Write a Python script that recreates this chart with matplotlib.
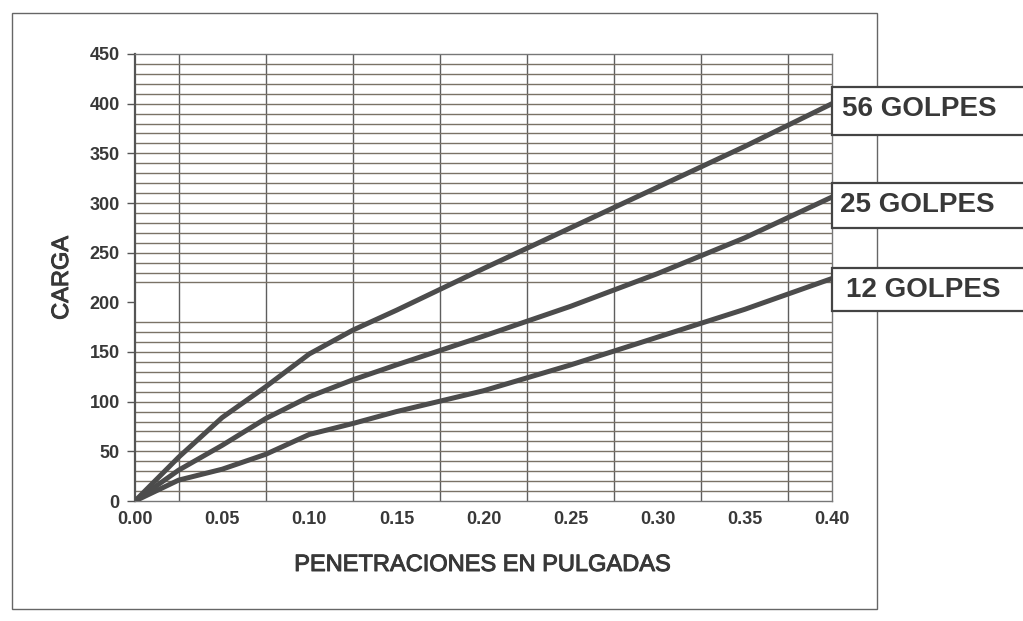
import matplotlib
matplotlib.use("Agg")
import matplotlib.pyplot as plt
import matplotlib.patheffects as pe
from matplotlib.patches import Rectangle
from matplotlib.ticker import FixedLocator

# ---- data ----
penetracion = [0.0, 0.025, 0.05, 0.075, 0.10, 0.125, 0.15, 0.20, 0.25, 0.30, 0.35, 0.40]
golpes_56 = [0, 44, 84, 115, 148, 172, 192, 234, 275, 316, 357, 400]
golpes_25 = [0, 31, 56, 83, 105, 122, 137, 166, 196, 229, 265, 306]
golpes_12 = [0, 21, 32, 47, 67, 78, 90, 111, 137, 165, 193, 224]
series_labels = ["56 GOLPES", "25 GOLPES", "12 GOLPES"]
x_ticks = [0.00, 0.05, 0.10, 0.15, 0.20, 0.25, 0.30, 0.35, 0.40]
x_ticklabels = ["0.00", "0.05", "0.10", "0.15", "0.20", "0.25", "0.30", "0.35", "0.40"]
y_ticks = [0, 50, 100, 150, 200, 250, 300, 350, 400, 450]
x_grid = [0.025, 0.075, 0.125, 0.175, 0.225, 0.275, 0.325, 0.375]
y_grid = [v for v in range(10, 450, 10) if v not in (190, 200, 210)]
xlabel = "PENETRACIONES EN PULGADAS"
ylabel = "CARGA"

W, H = 1023, 621
fig = plt.figure(figsize=(W / 100, H / 100), dpi=100)
fig.patch.set_facecolor("white")

TXT = "#383838"
GRID = "#7a7266"
LINE = "#4c4c4c"
thick = [pe.withStroke(linewidth=0.7, foreground=TXT)]

def fx(px):
    return px / W

def fy(py):
    return 1 - py / H

left, right, top, bottom = 135, 832, 54, 501
ax = fig.add_axes([fx(left), fy(bottom), fx(right) - fx(left), fy(top) - fy(bottom)])
ax.set_xlim(0, 0.40)
ax.set_ylim(0, 450)

for g in x_grid:
    ax.axvline(g, color="#5e5e5e", lw=1.0, zorder=1)
for g in y_grid:
    ax.axhline(g, color=GRID, lw=1.0, zorder=1)

for ys in (golpes_56, golpes_25, golpes_12):
    ax.plot(penetracion, ys, color=LINE, lw=3.6, solid_capstyle="round",
            solid_joinstyle="round", zorder=3)

ax.xaxis.set_major_locator(FixedLocator(x_ticks))
ax.set_xticklabels(x_ticklabels)
ax.yaxis.set_major_locator(FixedLocator(y_ticks))
for lab in ax.get_xticklabels() + ax.get_yticklabels():
    lab.set_fontfamily("Liberation Sans")
    lab.set_fontweight("bold")
    lab.set_fontsize(13)
    lab.set_color(TXT)
ax.tick_params(axis="x", length=0, pad=7)
ax.tick_params(axis="y", length=6, width=1, color="#555555", pad=5)

ax.spines["left"].set_color("#555555")
ax.spines["left"].set_linewidth(1.6)
for s in ("top", "right", "bottom"):
    ax.spines[s].set_color("#777777")
    ax.spines[s].set_linewidth(1.0)
    ax.spines[s].set_linestyle((0, (2, 1)))

fig.text(fx(62), fy(278), ylabel, rotation=90, ha="center", va="center",
         fontsize=17, family="Liberation Sans", color=TXT, path_effects=thick)
fig.text(fx(482), fy(565), xlabel, ha="center", va="center",
         fontsize=17, family="Liberation Sans", color=TXT, path_effects=thick)

# outer frame
fig.patches.append(Rectangle((fx(12), fy(609)), fx(877) - fx(12), fy(13) - fy(609),
                             transform=fig.transFigure, fill=False,
                             edgecolor="#666666", lw=1.0, zorder=0))

# label boxes
boxes = [(87, 135, 842, 109), (183, 228, 840, 205), (268, 311, 846, 290)]
for (y0, y1, tx, ty), lab in zip(boxes, series_labels):
    fig.patches.append(Rectangle((fx(832), fy(y1)), fx(1030) - fx(832), fy(y0) - fy(y1),
                                 transform=fig.transFigure, facecolor="white",
                                 edgecolor="#444444", lw=1.6, zorder=5))
    fig.text(fx(tx), fy(ty), lab, ha="left", va="center", fontsize=20,
             family="Liberation Sans", weight="bold", color=TXT, zorder=6)

fig.savefig("out.png", dpi=100, facecolor="white")
